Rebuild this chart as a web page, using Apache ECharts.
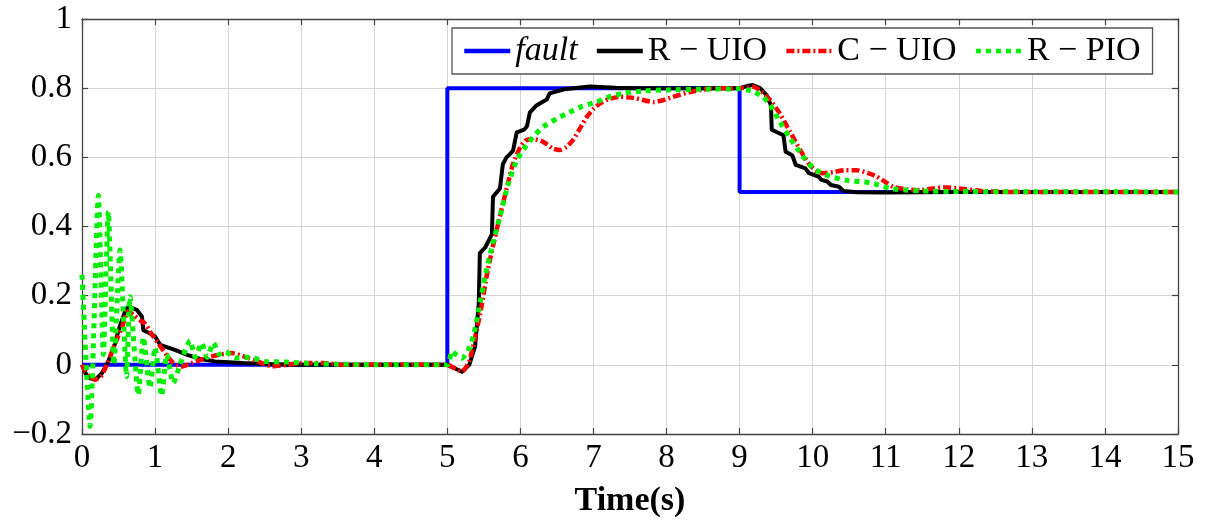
<!DOCTYPE html>
<html>
<head>
<meta charset="utf-8">
<script src="https://cdn.jsdelivr.net/npm/echarts@6/dist/echarts.min.js"></script>
<style>
  html, body { margin: 0; padding: 0; background: #fff; }
  #chart { width: 1214px; height: 524px; }
</style>
</head>
<body>
<div id="chart"></div>
<script>
// legend names
var names = ['fault', 'R − UIO', 'C − UIO', 'R − PIO'];

// fault signal
var faultT = [0, 5, 5, 9, 9, 15];
var faultV = [0, 0, 0.8, 0.8, 0.5, 0.5];

// R-UIO (black, step-like)
var rUioT = [0, 0.05, 0.1, 0.18, 0.27, 0.36, 0.45, 0.5, 0.59, 0.634, 0.75, 0.82, 0.84, 0.92, 1.0, 1.07, 1.27, 1.45, 1.64, 1.82, 2.2, 2.6, 3.0, 4.0, 5.0, 5.1, 5.2, 5.3, 5.38, 5.43, 5.445, 5.52, 5.58, 5.61, 5.625, 5.68, 5.72, 5.76, 5.81, 5.86, 5.9, 5.95, 6.05, 6.09, 6.13, 6.22, 6.3, 6.36, 6.4, 6.6, 6.95, 7.3, 7.6, 9.0, 9.1, 9.18, 9.28, 9.37, 9.43, 9.44, 9.52, 9.6, 9.63, 9.72, 9.77, 9.9, 9.95, 10.08, 10.12, 10.2, 10.25, 10.36, 10.42, 10.6, 11.0, 12.0, 15.0];
var rUioV = [0, -0.025, -0.038, -0.043, -0.025, 0.01, 0.06, 0.1, 0.155, 0.168, 0.159, 0.14, 0.1, 0.092, 0.082, 0.058, 0.043, 0.028, 0.016, 0.01, 0.005, 0.002, 0, 0, 0, -0.01, -0.02, 0, 0.053, 0.178, 0.323, 0.34, 0.365, 0.378, 0.486, 0.5, 0.51, 0.58, 0.6, 0.61, 0.62, 0.672, 0.68, 0.69, 0.73, 0.75, 0.76, 0.767, 0.785, 0.797, 0.805, 0.801, 0.8, 0.8, 0.806, 0.809, 0.8, 0.78, 0.75, 0.68, 0.672, 0.664, 0.616, 0.606, 0.578, 0.568, 0.554, 0.544, 0.535, 0.53, 0.52, 0.515, 0.503, 0.499, 0.498, 0.5, 0.5];

// C-UIO (red, dash-dot)
var cUioT = [0, 0.08, 0.18, 0.27, 0.36, 0.45, 0.55, 0.63, 0.7, 0.8, 0.86, 0.95, 1.05, 1.15, 1.25, 1.36, 1.5, 1.7, 1.9, 2.05, 2.2, 2.4, 2.6, 2.8, 3.0, 3.3, 3.6, 4.0, 5.0, 5.1, 5.2, 5.3, 5.45, 5.55, 5.675, 5.8, 5.9, 6.0, 6.085, 6.2, 6.31, 6.45, 6.54, 6.63, 6.72, 6.82, 6.91, 7.0, 7.09, 7.2, 7.36, 7.55, 7.82, 7.95, 8.09, 8.3, 8.5, 8.8, 9.0, 9.19, 9.3, 9.42, 9.55, 9.69, 9.83, 9.96, 10.05, 10.15, 10.3, 10.45, 10.6, 10.75, 10.88, 11.0, 11.1, 11.3, 11.47, 11.65, 11.83, 12.0, 12.3, 12.6, 13.0, 15.0];
var cUioV = [0, -0.03, -0.043, -0.03, 0.01, 0.06, 0.11, 0.155, 0.145, 0.128, 0.12, 0.09, 0.06, 0.03, 0.005, -0.005, 0.005, 0.02, 0.03, 0.034, 0.025, 0.01, -0.004, 0, 0.005, 0.005, 0, 0.001, 0, -0.01, -0.019, 0.01, 0.149, 0.27, 0.39, 0.5, 0.582, 0.63, 0.65, 0.652, 0.645, 0.625, 0.621, 0.63, 0.65, 0.685, 0.717, 0.74, 0.756, 0.768, 0.775, 0.772, 0.76, 0.765, 0.775, 0.788, 0.796, 0.8, 0.8, 0.804, 0.79, 0.765, 0.727, 0.674, 0.621, 0.578, 0.56, 0.554, 0.558, 0.563, 0.563, 0.555, 0.544, 0.528, 0.515, 0.507, 0.505, 0.51, 0.513, 0.51, 0.503, 0.5, 0.5, 0.5];

// R-PIO (green, dotted, oscillating at start)
var rPioT = [0, 0.11, 0.224, 0.292, 0.36, 0.438, 0.52, 0.61, 0.657, 0.771, 0.84, 0.93, 1.0, 1.09, 1.16, 1.25, 1.34, 1.48, 1.55, 1.64, 1.71, 1.8, 1.88, 1.96, 2.1, 2.3, 2.5, 2.8, 3.2, 3.5, 4.0, 5.0, 5.06, 5.12, 5.2, 5.28, 5.355, 5.43, 5.515, 5.62, 5.72, 5.83, 5.95, 6.085, 6.2, 6.31, 6.5, 6.68, 6.85, 7.04, 7.2, 7.41, 7.7, 8.0, 8.5, 9.0, 9.1, 9.19, 9.32, 9.42, 9.55, 9.69, 9.87, 10.01, 10.18, 10.45, 10.78, 10.9, 11.06, 11.3, 11.47, 12.0, 15.0];
var rPioV = [0.26, -0.178, 0.49, 0.03, 0.443, 0.0, 0.332, -0.034, 0.197, -0.087, 0.08, -0.067, 0.05, -0.09, 0.03, -0.053, 0.0, 0.07, 0.022, 0.063, 0.022, 0.063, 0.03, 0.038, 0.02, 0.022, 0.01, 0.008, 0.003, 0.002, 0, 0, 0.039, 0.03, 0.019, 0.04, 0.082, 0.16, 0.255, 0.35, 0.428, 0.52, 0.592, 0.635, 0.665, 0.688, 0.712, 0.731, 0.748, 0.76, 0.774, 0.785, 0.792, 0.795, 0.797, 0.798, 0.795, 0.79, 0.775, 0.751, 0.703, 0.655, 0.602, 0.568, 0.549, 0.534, 0.527, 0.52, 0.51, 0.505, 0.503, 0.501, 0.5];

var xTicks = { min: 0, max: 15, step: 1 };
var yTicks = { min: -0.2, max: 1, step: 0.2 };

function pairs(t, v) {
  var out = [];
  for (var i = 0; i < t.length; i++) out.push([t[i], v[i]]);
  return out;
}

var font = 'Liberation Serif';
var chart = echarts.init(document.getElementById('chart'));

var tickStyle = { show: true, inside: true, length: 6, lineStyle: { color: '#444', width: 1.2 } };
var axisLn = { show: true, onZero: false, lineStyle: { color: '#444', width: 1.3 } };

var option = {
  backgroundColor: '#fff',
  animation: false,
  grid: { left: 82, right: 36, top: 19, bottom: 90 },
  legend: {
    data: names,
    left: 452,
    top: 28,
    orient: 'horizontal',
    itemWidth: 46,
    itemHeight: 14,
    itemGap: 17,
    padding: [6, 12, 6, 10],
    borderColor: '#555',
    borderWidth: 1.3,
    backgroundColor: '#fff',
    lineStyle: { width: 4.5 },
    itemStyle: { opacity: 0 },
    formatter: function (name) {
      return name === 'fault' ? '{it|fault}' : name;
    },
    textStyle: {
      fontFamily: font,
      fontSize: 34,
      color: '#000',
      rich: { it: { fontFamily: font, fontStyle: 'italic', fontSize: 34, color: '#000' } }
    }
  },
  xAxis: [{
    type: 'value',
    min: xTicks.min, max: xTicks.max, interval: xTicks.step,
    name: 'Time(s)',
    nameLocation: 'middle',
    nameGap: 50,
    nameTextStyle: { fontFamily: font, fontSize: 34, fontWeight: 'bold', color: '#000' },
    axisLine: axisLn,
    axisTick: tickStyle,
    axisLabel: { fontFamily: font, fontSize: 33, color: '#000', margin: 8 },
    splitLine: { show: true, lineStyle: { color: '#d4d4d4', width: 1 } }
  }, {
    type: 'value', position: 'top',
    min: xTicks.min, max: xTicks.max, interval: xTicks.step,
    axisLine: axisLn, axisTick: tickStyle,
    axisLabel: { show: false }, splitLine: { show: false }
  }],
  yAxis: [{
    type: 'value',
    min: yTicks.min, max: yTicks.max, interval: yTicks.step,
    axisLine: axisLn,
    axisTick: tickStyle,
    axisLabel: {
      fontFamily: font, fontSize: 33, color: '#000', margin: 10,
      formatter: function (v) {
        return String(Math.round(v * 10) / 10).replace('-', '\u2212');
      }
    },
    splitLine: { show: true, lineStyle: { color: '#d4d4d4', width: 1 } }
  }, {
    type: 'value', position: 'right',
    min: yTicks.min, max: yTicks.max, interval: yTicks.step,
    axisLine: axisLn, axisTick: tickStyle,
    axisLabel: { show: false }, splitLine: { show: false }
  }],
  series: [{
    name: names[0], type: 'line', symbol: 'none',
    data: pairs(faultT, faultV),
    lineStyle: { color: '#0000ff', width: 4 },
    itemStyle: { color: '#0000ff' }
  }, {
    name: names[1], type: 'line', symbol: 'none',
    data: pairs(rUioT, rUioV),
    lineStyle: { color: '#000', width: 4, join: 'round' },
    itemStyle: { color: '#000' }
  }, {
    name: names[2], type: 'line', symbol: 'none', smooth: 0.2,
    data: pairs(cUioT, cUioV),
    lineStyle: { color: '#ff0000', width: 4.5, type: [8, 3, 2, 3] },
    itemStyle: { color: '#ff0000' }
  }, {
    name: names[3], type: 'line', symbol: 'none', smooth: 0.2,
    data: pairs(rPioT, rPioV),
    lineStyle: { color: '#00f000', width: 5, type: [5, 5] },
    itemStyle: { color: '#00f000' }
  }]
};
chart.setOption(option);
</script>
</body>
</html>
